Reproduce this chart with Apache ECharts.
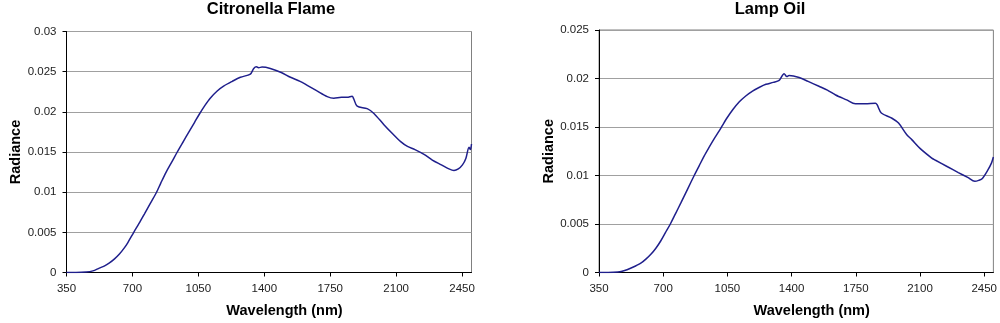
<!DOCTYPE html>
<html>
<head>
<meta charset="utf-8">
<script src="https://cdn.jsdelivr.net/npm/echarts@6/dist/echarts.min.js"></script>
<style>
html,body{margin:0;padding:0;background:#fff;}
#c{width:1000px;height:323px;}
</style>
</head>
<body>
<div id="c"></div>
<script>
// ---- data ----
const titles = ['Citronella Flame', 'Lamp Oil'];
const xTicks = [350, 700, 1050, 1400, 1750, 2100, 2450];
const citWl = [350,400,454,490,524,550,578,605,631,655,675,707,735,764,795,826,850,879,910,938,970,1000,1030,1055,1085,1113,1150,1184,1230,1273,1326,1344,1358,1370,1388,1432,1490,1539,1590,1628,1680,1734,1769,1810,1840,1866,1875,1893,1946,1982,2035,2080,2124,2160,2200,2248,2292,2340,2380,2407,2430,2452,2470,2487,2494,2500];
const citVal = [0,0,0.00005,0.0002,0.00055,0.0008,0.0012,0.0017,0.0023,0.0030,0.0037,0.0050,0.0061,0.0073,0.0086,0.0099,0.0111,0.0125,0.0138,0.0150,0.0163,0.0175,0.0187,0.0197,0.0208,0.0217,0.0226,0.0232,0.0238,0.0243,0.0247,0.0254,0.0256,0.0255,0.02557,0.0254,0.0249,0.0243,0.0238,0.0233,0.0226,0.0219,0.0217,0.0218,0.0218,0.02195,0.0216,0.0207,0.0204,0.0198,0.0184,0.0173,0.0163,0.0157,0.0153,0.0147,0.0140,0.0134,0.0129,0.0127,0.0129,0.0134,0.0142,0.0156,0.0153,0.0160];
const lampWl = [350,400,453,490,525,552,580,607,634,660,688,712,739,768,797,833,869,896,923,950,975,1007,1024,1043,1080,1115,1150,1187,1225,1260,1300,1332,1359,1374,1386,1441,1490,1549,1595,1640,1700,1748,1802,1857,1866,1889,1947,1983,2028,2055,2100,2164,2182,2250,2309,2360,2399,2420,2440,2471,2490,2500];
const lampVal = [0,0,0.00005,0.0002,0.00046,0.0007,0.00098,0.0014,0.0019,0.0025,0.0033,0.0041,0.0050,0.0061,0.0072,0.0086,0.0100,0.0110,0.0120,0.0129,0.0137,0.01465,0.0152,0.0158,0.0168,0.0176,0.0182,0.0187,0.0191,0.0194,0.0196,0.0198,0.0205,0.0202,0.0203,0.0201,0.0197,0.0192,0.0188,0.0183,0.0178,0.0174,0.0174,0.01745,0.0173,0.01645,0.0159,0.0154,0.0142,0.0137,0.0128,0.0118,0.0116,0.0109,0.0103,0.0098,0.0094,0.0095,0.0097,0.0106,0.0113,0.0119];
const yMax = [0.03, 0.025];
const yStep = 0.005;

const FONT = "'Liberation Sans', Arial, sans-serif";
const pairs = (xs, ys) => xs.map((x, i) => [x, ys[i]]);

const grids = [
  {left: 66.5, top: 31.5, right: 528.5, bottom: 49.5},
  {left: 599, top: 30, right: 5.5, bottom: 49.5}
];
const titleX = [271, 770];

const chart = echarts.init(document.getElementById('c'), null, {renderer: 'canvas'});

const xAxes = grids.map((g, i) => ({
  type: 'value', gridIndex: i, min: 350, max: 2500, interval: 350,
  name: 'Wavelength (nm)', nameLocation: 'middle', nameGap: 30.5,
  nameTextStyle: {fontFamily: FONT, fontSize: 14.5, fontWeight: 'bold', color: '#000', padding: [0,0,0,31]},
  axisLine: {show: true, onZero: false, lineStyle: {color: '#000', width: 1}},
  axisTick: {show: true, length: 4, lineStyle: {color: '#000'}},
  axisLabel: {fontFamily: FONT, fontSize: 11.5, color: '#222', margin: 10, showMaxLabel: false,
    formatter: v => xTicks.includes(v) ? String(v) : ''},
  splitLine: {show: false}
}));
const yAxes = grids.map((g, i) => ({
  type: 'value', gridIndex: i, min: 0, max: yMax[i], interval: yStep,
  name: 'Radiance', nameLocation: 'middle', nameGap: 42.3,
  nameTextStyle: {fontFamily: FONT, fontSize: 14.5, fontWeight: 'bold', color: '#000'},
  axisLine: {show: true, lineStyle: {color: '#000', width: 1}},
  axisTick: {show: true, length: 4, lineStyle: {color: '#000'}},
  axisLabel: {fontFamily: FONT, fontSize: 11.5, color: '#222', margin: 10,
    formatter: v => String(+v.toFixed(3))},
  splitLine: {show: true, lineStyle: {color: '#a0a0a0', width: 1}}
}));

chart.setOption({
  animation: false,
  backgroundColor: '#fff',
  grid: grids.map(g => Object.assign({show: true, borderColor: '#808080', borderWidth: 1, backgroundColor: '#fff'}, g)),
  graphic: titles.map((t, i) => ({
    type: 'text', x: titleX[i], y: 9.3,
    style: {text: t, textAlign: 'center', textVerticalAlign: 'middle', verticalAlign: 'middle',
      font: "bold 16.5px 'Liberation Sans', Arial, sans-serif", fill: '#000'}
  })),
  xAxis: xAxes,
  yAxis: yAxes,
  series: [
    {type: 'line', xAxisIndex: 0, yAxisIndex: 0, data: pairs(citWl, citVal), showSymbol: false, smooth: 0.3,
     lineStyle: {color: '#1f1f8c', width: 1.5}},
    {type: 'line', xAxisIndex: 1, yAxisIndex: 1, data: pairs(lampWl, lampVal), showSymbol: false, smooth: 0.3,
     lineStyle: {color: '#1f1f8c', width: 1.5}}
  ]
});
</script>
</body>
</html>
